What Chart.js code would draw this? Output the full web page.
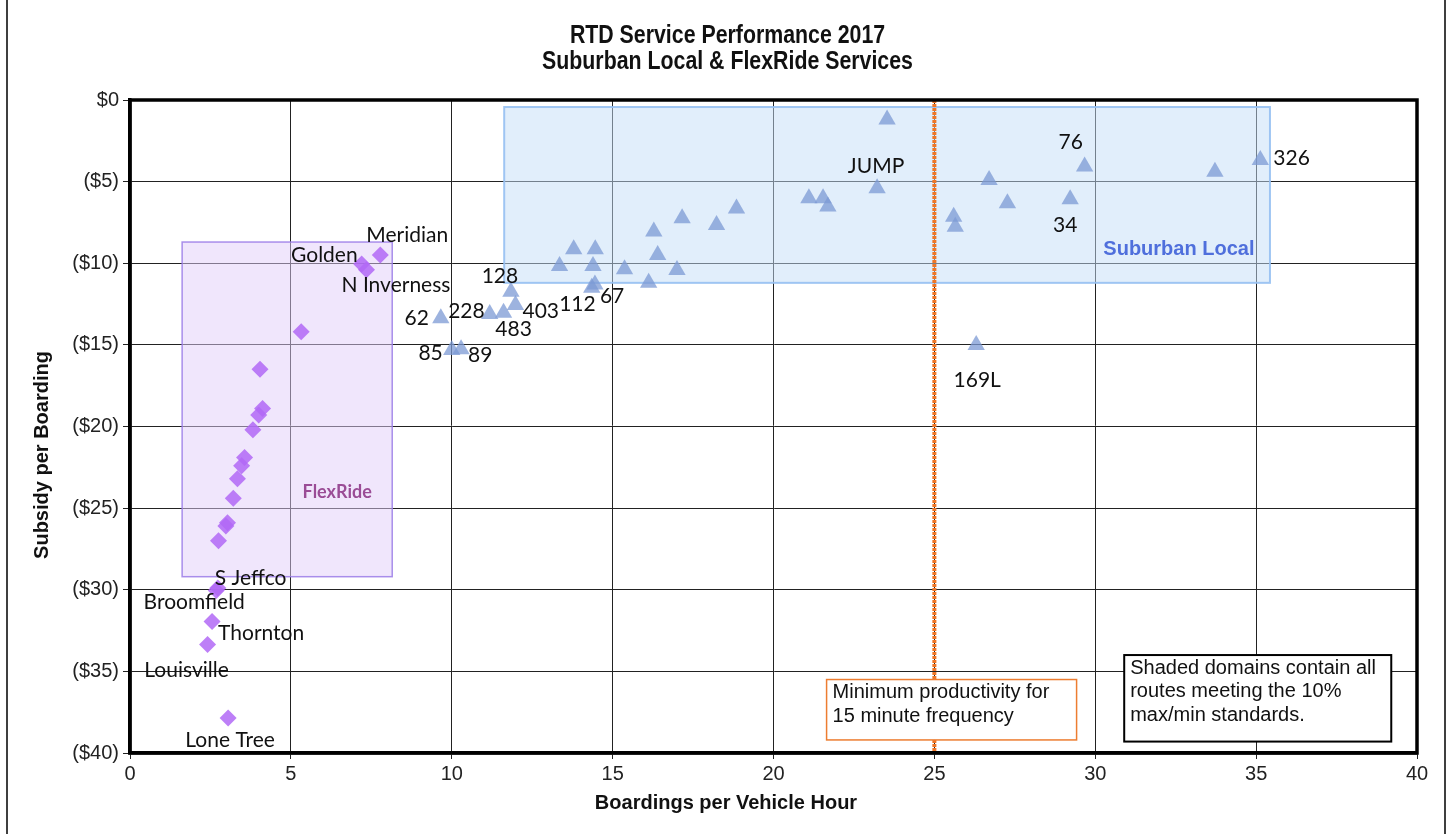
<!DOCTYPE html>
<html>
<head>
<meta charset="utf-8">
<title>RTD Service Performance 2017</title>
<script src="https://cdn.jsdelivr.net/npm/chart.js@4.4.1/dist/chart.umd.min.js"></script>
<style>
  html, body { margin: 0; padding: 0; background: #fff; }
  #wrap { width: 1449px; height: 834px; }
</style>
</head>
<body>
<div id="wrap"><canvas id="chart" width="1449" height="834"></canvas></div>
<script>
// FlexRide routes: boardings per vehicle hour / subsidy per boarding
const flexNames = ['Meridian', 'Golden', 'N Inverness', '', '', '', '', '', '', '', '', '', '', '', '',
  'S Jeffco', 'Broomfield', 'Thornton', 'Louisville', 'Lone Tree'];
const flexBoardings = [7.78, 7.2, 7.35, 5.32, 4.04, 4.12, 4.0, 3.82, 3.56, 3.47, 3.34, 3.21, 3.03, 2.98, 2.75,
  2.73, 2.68, 2.55, 2.41, 3.05];
const flexSubsidy = [-9.5, -10.05, -10.4, -14.2, -16.5, -18.9, -19.3, -20.2, -21.9, -22.4, -23.2, -24.4, -25.9, -26.1, -27.0,
  -29.9, -30.05, -31.95, -33.35, -37.85];

// Suburban Local routes
const localNames = ['JUMP', '76', '326', '', '', '34', '', '', '', '', '', '', '', '', '', '', '', '', '', '',
  '', '', '', '', '', '112', '67', '128', '403', '483', '228', '62', '85', '89', '169L'];
const localBoardings = [23.53, 29.67, 35.13, 33.72, 26.7, 29.22, 27.27, 25.6, 25.65, 23.22, 21.1, 21.54, 21.69,
  18.85, 18.23, 17.16, 16.28, 16.4, 16.12, 17.0, 15.37, 14.46, 14.39, 13.79, 13.35,
  14.35, 14.45, 11.84, 11.98, 11.61, 11.18, 9.66, 10.0, 10.29, 26.3];
const localSubsidy = [-1.2, -4.08, -3.68, -4.39, -4.9, -6.08, -6.33, -7.15, -7.76, -5.41, -6.02, -6.02, -6.53,
  -6.64, -7.66, -7.25, -8.05, -9.49, -11.19, -10.41, -10.37, -9.15, -10.17, -9.15, -10.17,
  -11.5, -11.3, -11.74, -12.56, -13.03, -13.11, -13.37, -15.31, -15.27, -15.0];

// Eixos
const xTicks = [0, 5, 10, 15, 20, 25, 30, 35, 40];
const yTicks = [0, -5, -10, -15, -20, -25, -30, -35, -40];
const minProductivity = 25;

// Shaded domains (10% max/min standards)
const flexDomainX = [1.62, 8.15];
const flexDomainY = [-29.2, -8.7];
const localDomainX = [11.63, 35.43];
const localDomainY = [-11.2, -0.43];

// Note boxes, anchored in data units
const noteOrangeX = [21.65, 29.42];
const noteOrangeY = [-35.5, -39.2];
const noteBlackX = [30.9, 39.2];
const noteBlackY = [-34.0, -39.3];
const noteOrangeText = ['Minimum productivity for', '15 minute frequency'];
const noteBlackText = ['Shaded domains contain all', 'routes meeting the 10%', 'max/min standards.'];

// label placement: [dx, dy, align]
const labelPos = {
  'Meridian': [-14, -20, 'left'],
  'Golden': [-4, -9, 'right'],
  'N Inverness': [-25, 15, 'left'],
  'S Jeffco': [-3, -10, 'left'],
  'Broomfield': [-22, 12, 'center'],
  'Thornton': [6, 12, 'left'],
  'Louisville': [-21, 26, 'center'],
  'Lone Tree': [2, 22, 'center'],
  'JUMP': [-11, 47, 'center'],
  '76': [-14, -24, 'center'],
  '34': [-5, 26, 'center'],
  '326': [13, -2, 'left'],
  '169L': [1, 35, 'center'],
  '62': [-12, 0, 'right'],
  '85': [-9, 3, 'right'],
  '89': [7, 6, 'left'],
  '228': [-5, -3, 'right'],
  '483': [10, 17, 'center'],
  '403': [7, 6, 'left'],
  '128': [-11, -15, 'center'],
  '112': [4, 16, 'right'],
  '67': [5, 12, 'left']
};

const SANS = "'Liberation Sans', Arial, sans-serif";
const LABEL_FONT = "21px Lato, 'Open Sans', sans-serif";

function pts(xs, ys, names) {
  return xs.map((x, i) => ({ x: x, y: ys[i], name: names[i] }));
}

// Shaded domains behind the markers
const domainsPlugin = {
  id: 'domains',
  beforeDatasetsDraw(chart) {
    const { ctx, scales: { x, y } } = chart;
    function box(xr, yr, fill, stroke, lw) {
      const l = x.getPixelForValue(xr[0]), r = x.getPixelForValue(xr[1]);
      const t = y.getPixelForValue(yr[1]), b = y.getPixelForValue(yr[0]);
      ctx.save();
      ctx.fillStyle = fill;
      ctx.fillRect(l, t, r - l, b - t);
      ctx.strokeStyle = stroke;
      ctx.lineWidth = lw;
      ctx.strokeRect(l, t, r - l, b - t);
      ctx.restore();
    }
    box(flexDomainX, flexDomainY, 'rgba(226,206,250,0.5)', 'rgba(155,125,232,0.85)', 1.5);
    box(localDomainX, localDomainY, 'rgba(195,221,248,0.5)', 'rgba(150,192,242,0.9)', 2);
  }
};

// Labels, notes, frame and titles
const overlayPlugin = {
  id: 'overlay',
  afterDatasetsDraw(chart) {
    const { ctx, chartArea: a, scales: { x, y } } = chart;
    ctx.save();

    // data labels
    ctx.font = LABEL_FONT;
    ctx.fillStyle = '#111';
    ctx.textBaseline = 'middle';
    [0, 1].forEach(di => {
      const meta = chart.getDatasetMeta(di);
      chart.data.datasets[di].data.forEach((p, i) => {
        const pos = labelPos[p.name];
        if (!p.name || !pos) return;
        const el = meta.data[i];
        ctx.textAlign = pos[2];
        ctx.fillText(p.name, el.x + pos[0], el.y + pos[1]);
      });
    });

    // domain captions
    ctx.font = "bold 18px Lato, sans-serif";
    ctx.textAlign = 'center';
    ctx.fillStyle = '#9a4c96';
    ctx.fillText('FlexRide', x.getPixelForValue(6.44), y.getPixelForValue(-24.0));
    ctx.font = "bold 20px " + SANS;
    ctx.fillStyle = '#4f6fdc';
    ctx.fillText('Suburban Local', x.getPixelForValue(32.6), y.getPixelForValue(-9.15));

    // note boxes
    function note(xr, yr, lines, border, lw) {
      const l = x.getPixelForValue(xr[0]), r = x.getPixelForValue(xr[1]);
      const t = y.getPixelForValue(yr[0]), b = y.getPixelForValue(yr[1]);
      ctx.fillStyle = '#fff';
      ctx.fillRect(l, t, r - l, b - t);
      ctx.strokeStyle = border;
      ctx.lineWidth = lw;
      ctx.strokeRect(l, t, r - l, b - t);
      ctx.font = "20px " + SANS;
      ctx.fillStyle = '#111';
      ctx.textAlign = 'left';
      lines.forEach((s, i) => ctx.fillText(s, l + 6, t + 13 + i * 23.5));
    }
    note(noteOrangeX, noteOrangeY, noteOrangeText, '#ed7d31', 1.5);
    note(noteBlackX, noteBlackY, noteBlackText, '#000', 2);

    // heavy frame round the plot area
    ctx.strokeStyle = '#000';
    ctx.lineWidth = 3.5;
    ctx.strokeRect(a.left, a.top, a.right - a.left, a.bottom - a.top);
    ctx.restore();
  },
  afterDraw(chart) {
    const { ctx, width, height } = chart;
    ctx.save();
    // outer chart frame (left/right edges)
    ctx.strokeStyle = '#000';
    ctx.lineWidth = 1.5;
    ctx.beginPath();
    ctx.moveTo(7, 0); ctx.lineTo(7, height);
    ctx.moveTo(1445, 0); ctx.lineTo(1445, height);
    ctx.stroke();

    // axis titles
    ctx.fillStyle = '#111';
    ctx.textAlign = 'center';
    ctx.textBaseline = 'middle';
    ctx.font = "bold 20px " + SANS;
    ctx.fillText('Boardings per Vehicle Hour', 726, 803);
    ctx.save();
    ctx.translate(42, 455);
    ctx.rotate(-Math.PI / 2);
    ctx.fillText('Subsidy per Boarding', 0, 0);
    ctx.restore();

    // title, narrow bold
    ctx.font = "bold 26px " + SANS;
    ctx.translate(width / 2 + 3, 0);
    ctx.scale(0.82, 1);
    ctx.fillText('RTD Service Performance 2017', 0, 36);
    ctx.fillText('Suburban Local & FlexRide Services', 0, 62);
    ctx.restore();
  }
};

const canvas = document.getElementById('chart');
new Chart(canvas.getContext('2d'), {
  type: 'scatter',
  data: {
    datasets: [
      {
        label: 'FlexRide',
        data: pts(flexBoardings, flexSubsidy, flexNames),
        pointStyle: 'rectRot',
        pointRadius: 8.5,
        backgroundColor: 'rgba(178,104,246,0.85)',
        borderColor: 'rgba(178,104,246,0.85)',
        borderWidth: 0
      },
      {
        label: 'Suburban Local',
        data: pts(localBoardings, localSubsidy, localNames),
        pointStyle: 'triangle',
        pointRadius: 10,
        backgroundColor: 'rgba(124,154,212,0.75)',
        borderColor: 'rgba(124,154,212,0.75)',
        borderWidth: 0
      },
      {
        type: 'line',
        label: 'Minimum productivity',
        data: [{ x: minProductivity, y: yTicks[0] }, { x: minProductivity, y: yTicks[yTicks.length - 1] }],
        borderColor: '#ef7626',
        borderWidth: 4,
        borderDash: [3, 1],
        pointRadius: 0
      }
    ]
  },
  options: {
    responsive: false,
    animation: false,
    layout: { padding: { left: 8, right: 32, top: 100, bottom: 0 } },
    plugins: {
      legend: { display: false },
      tooltip: { enabled: false }
    },
    scales: {
      x: {
        type: 'linear',
        min: xTicks[0],
        max: xTicks[xTicks.length - 1],
        afterBuildTicks: s => { s.ticks = xTicks.map(v => ({ value: v })); },
        afterFit: s => { s.height = 81; },
        ticks: { color: '#222', font: { family: SANS, size: 20 }, padding: 3, maxRotation: 0 },
        grid: { color: '#222', lineWidth: 1, tickLength: 6 },
        border: { color: '#000', width: 3.5 }
      },
      y: {
        type: 'linear',
        min: yTicks[yTicks.length - 1],
        max: yTicks[0],
        afterBuildTicks: s => { s.ticks = yTicks.map(v => ({ value: v })); },
        afterFit: s => { s.width = 122; },
        ticks: {
          color: '#222',
          font: { family: SANS, size: 20 },
          padding: 4,
          callback: v => v === 0 ? '$0' : '($' + (-v) + ')'
        },
        grid: { color: '#222', lineWidth: 1, tickLength: 7 },
        border: { color: '#000', width: 3.5 }
      }
    }
  },
  plugins: [domainsPlugin, overlayPlugin]
});
</script>
</body>
</html>
